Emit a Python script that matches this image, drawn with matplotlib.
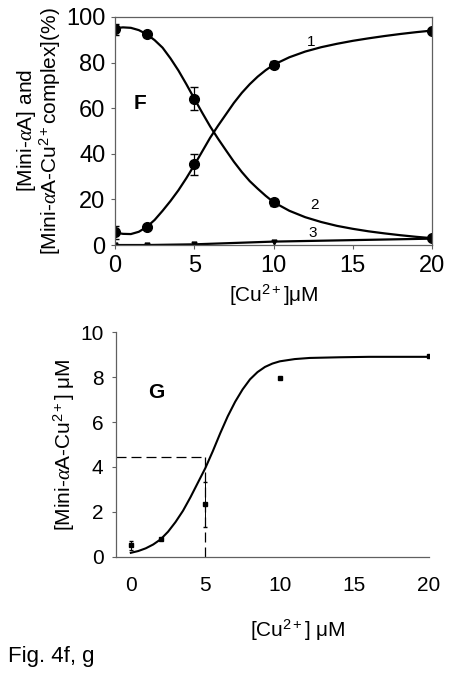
import numpy as np
import matplotlib.pyplot as plt

plt.rcParams['font.family'] = ['Liberation Sans', 'DejaVu Sans']
plt.rcParams['mathtext.fontset'] = 'custom'
plt.rcParams['mathtext.rm'] = 'Liberation Sans'
plt.rcParams['mathtext.it'] = 'Liberation Serif:italic'
plt.rcParams['mathtext.bf'] = 'Liberation Sans:bold'

# Panel F: measured points
cu_x = [0, 2, 5, 10, 20]
complex_y = [5.5, 7.9, 35.3, 79, 94]        # curve 1
complex_err = [3, 1, 4.7, 1.5, 0.5]
free_y = [94.5, 92.3, 64.2, 18.8, 3]        # curve 2
free_err = [2.5, 1, 5, 1.5, 0.5]
tri_y = [0, 0, 0.3, 1.5, 2.8]               # curve 3

# Panel F: fitted curves
fit_x = [0, 0.5, 1, 1.5, 2, 2.5, 3, 3.5, 4, 4.5, 5, 5.5, 6, 6.5, 7, 7.5, 8, 8.5,
         9, 9.5, 10, 11, 12, 13, 14, 15, 16, 17, 18, 19, 20]
fit1_y = [5.5, 4.9, 4.8, 5.8, 7.9, 11, 15, 19.3, 24, 29.3, 35, 41, 47, 52.3, 57.3,
          62.3, 66.7, 70.5, 73.8, 76.6, 79, 82.3, 84.8, 86.7, 88.2, 89.5, 90.6,
          91.6, 92.5, 93.3, 94]
fit2_y = [95, 95.4, 95.2, 94.2, 92.4, 89.8, 86.5, 81.8, 76.5, 70.5, 64.2, 58, 52,
          46.6, 41.5, 36.5, 32, 28, 24.7, 21.6, 18.8, 15, 12.2, 10.1, 8.4, 7.1, 6,
          5.1, 4.3, 3.6, 3]

# Panel G
g_y = [0.52, 0.8, 2.35, 7.95, 8.95]
g_err = [0.2, 0, 1.0, 0, 0]
fitg_x = [0, 0.5, 1, 1.5, 2, 2.5, 3, 3.5, 4, 4.5, 5, 5.5, 6, 6.5, 7, 7.5, 8, 8.5,
          9, 9.5, 10, 11, 12, 14, 16, 20]
fitg_y = [0.18, 0.26, 0.38, 0.55, 0.78, 1.12, 1.55, 2.05, 2.65, 3.3, 3.95, 4.7,
          5.5, 6.25, 6.9, 7.45, 7.9, 8.22, 8.45, 8.6, 8.7, 8.8, 8.85, 8.88, 8.9, 8.9]
half_x, half_y = 5, 4.44

spine_col = '#606060'

fig = plt.figure(figsize=(4.51, 6.75), dpi=100)

# ---- top panel (F)
ax1 = fig.add_axes([0.255, 0.637, 0.703, 0.338])
ax1.plot(fit_x, fit1_y, color='black', lw=1.6)
ax1.plot(fit_x, fit2_y, color='black', lw=1.6)
ax1.errorbar(cu_x, complex_y, yerr=complex_err, fmt='o', color='black', ms=7, capsize=3, elinewidth=0.9)
ax1.errorbar(cu_x, free_y, yerr=free_err, fmt='o', color='black', ms=7, capsize=3, elinewidth=0.9)
ax1.plot(cu_x, tri_y, color='black', lw=1.6, marker='v', ms=3.5)
ax1.text(12.4, 86, '1', fontsize=11, ha='center', va='bottom')
ax1.text(12.6, 14.5, '2', fontsize=11, ha='center', va='bottom')
ax1.text(12.5, 2.0, '3', fontsize=11, ha='center', va='bottom')
ax1.text(1.6, 62, 'F', fontsize=15, fontweight='bold', ha='center', va='center')
ax1.set_xlim(0, 20)
ax1.set_ylim(0, 100)
ax1.set_xticks([0, 5, 10, 15, 20])
ax1.set_yticks([0, 20, 40, 60, 80, 100])
ax1.tick_params(labelsize=17, length=3, color=spine_col, pad=4)
for s in ax1.spines.values():
    s.set_color(spine_col)
    s.set_linewidth(0.9)
ax1.set_xlabel('[Cu$^{2+}$]μM', fontsize=15, labelpad=4)
ax1.set_ylabel('[Mini-$\\alpha$A] and\n[Mini-$\\alpha$A-Cu$^{2+}$complex](%)', fontsize=15,
               labelpad=2, linespacing=1.0)

# ---- bottom panel (G)
ax2 = fig.add_axes([0.257, 0.175, 0.694, 0.333])
ax2.plot(fitg_x, fitg_y, color='black', lw=1.5)
ax2.errorbar(cu_x, g_y, yerr=g_err, fmt='s', color='black', ms=2.2, capsize=1.5, elinewidth=0.7)
ax2.plot([-1, half_x], [half_y, half_y], color='black', lw=0.9, dashes=(8, 4))
ax2.plot([half_x, half_x], [0, half_y], color='black', lw=0.9, dashes=(8, 4))
ax2.text(1.7, 7.3, 'G', fontsize=15, fontweight='bold', ha='center', va='center')
ax2.set_xlim(-1, 20)
ax2.set_ylim(0, 10)
ax2.set_xticks([0, 5, 10, 15, 20])
ax2.set_yticks([0, 2, 4, 6, 8, 10])
ax2.spines['top'].set_visible(False)
ax2.spines['right'].set_visible(False)
for s in ['left', 'bottom']:
    ax2.spines[s].set_color(spine_col)
    ax2.spines[s].set_linewidth(0.9)
ax2.tick_params(labelsize=15, length=3, color=spine_col, pad=6)
ax2.tick_params(axis='x', length=0, pad=14)
ax2.set_xlabel('[Cu$^{2+}$] μM', fontsize=15, labelpad=16, x=0.58)
ax2.set_ylabel('[Mini-$\\alpha$A-Cu$^{2+}$] μM', fontsize=15, labelpad=2)

fig.text(0.018, 0.012, 'Fig. 4f, g', fontsize=16, ha='left', va='bottom')

fig.savefig('out.png', dpi=100)
